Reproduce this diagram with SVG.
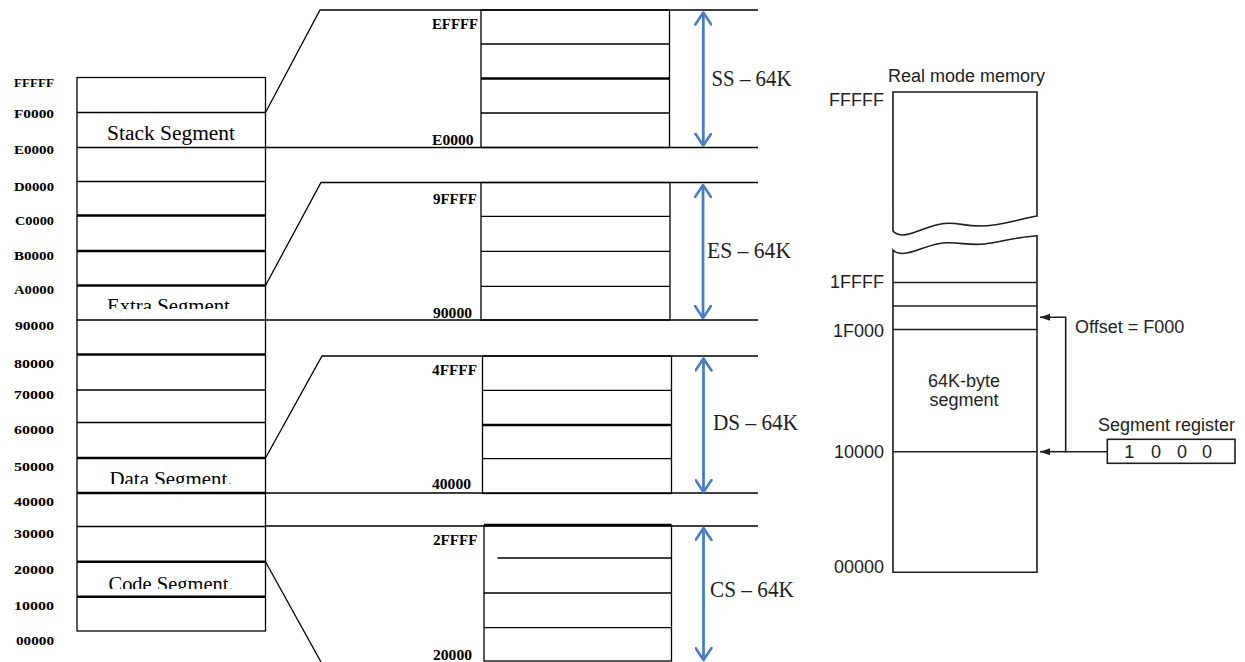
<svg xmlns="http://www.w3.org/2000/svg" width="1245" height="662" viewBox="0 0 1245 662">
<style>
.ln{stroke:#000;stroke-width:1.3;fill:none}
.th{stroke:#000;stroke-width:2.6;fill:none}
.lab{font-family:"Liberation Serif",serif;font-weight:bold;font-size:13.5px;fill:#000}
.mlab{font-family:"Liberation Serif",serif;font-weight:bold;font-size:14px;fill:#000}
.seg{font-family:"Liberation Serif",serif;font-size:20px;fill:#000;text-anchor:middle}
.sz{font-family:"Liberation Serif",serif;font-size:23px;fill:#222}
.blue{stroke:#4a7dbf;stroke-width:2.8;fill:none}
.rl{stroke:#1e1e1e;stroke-width:1.6;fill:none}
.rt{font-family:"Liberation Sans",Arial,sans-serif;font-size:18px;fill:#222}
.ra{text-anchor:end}
.rm{text-anchor:middle}
</style>
<defs>
<marker id="chev" viewBox="0 0 15 18" refX="13" refY="9" markerWidth="15" markerHeight="18" markerUnits="userSpaceOnUse" orient="auto-start-reverse">
<path d="M1,1 L13,9 L1,17" fill="none" stroke="#4a7dbf" stroke-width="2.6" stroke-linecap="round" stroke-linejoin="round"/>
</marker>
<marker id="tri" viewBox="0 0 10 7" refX="10" refY="3.5" markerWidth="10" markerHeight="7" markerUnits="userSpaceOnUse" orient="auto">
<path d="M0,0 L10,3.5 L0,7 z" fill="#1e1e1e"/>
</marker>
<clipPath id="cExtra"><rect x="77" y="286" width="188" height="23"/></clipPath>
<clipPath id="cData"><rect x="77" y="459" width="188" height="25"/></clipPath>
<clipPath id="cCode"><rect x="77" y="563" width="188" height="26"/></clipPath>
</defs>
<rect width="1245" height="662" fill="#fff"/>

<g id="left-memory">
<rect class="ln" x="77" y="77.5" width="188.5" height="553.5"/>
<line class="ln" x1="77" y1="112.5" x2="265.5" y2="112.5"/>
<line class="ln" x1="77" y1="147.5" x2="265.5" y2="147.5"/>
<line class="ln" x1="77" y1="181.5" x2="265.5" y2="181.5"/>
<line class="th" x1="77" y1="215.5" x2="265.5" y2="215.5"/>
<line class="th" x1="77" y1="251" x2="265.5" y2="251"/>
<line class="th" x1="77" y1="285.5" x2="265.5" y2="285.5"/>
<line class="ln" x1="77" y1="320" x2="265.5" y2="320"/>
<line class="th" x1="77" y1="354.5" x2="265.5" y2="354.5"/>
<line class="ln" x1="77" y1="390" x2="265.5" y2="390"/>
<line class="ln" x1="77" y1="422.5" x2="265.5" y2="422.5"/>
<line class="th" x1="77" y1="458" x2="265.5" y2="458"/>
<line class="th" x1="77" y1="493" x2="265.5" y2="493"/>
<line class="ln" x1="77" y1="526.5" x2="265.5" y2="526.5"/>
<line class="th" x1="77" y1="561.7" x2="265.5" y2="561.7"/>
<line class="th" x1="77" y1="596.7" x2="265.5" y2="596.7"/>
<text class="lab" x="14" y="86.5" textLength="40" lengthAdjust="spacingAndGlyphs">FFFFF</text>
<text class="lab" x="14" y="117.5" textLength="40" lengthAdjust="spacingAndGlyphs">F0000</text>
<text class="lab" x="14" y="153.5" textLength="40" lengthAdjust="spacingAndGlyphs">E0000</text>
<text class="lab" x="14" y="190.5" textLength="40" lengthAdjust="spacingAndGlyphs">D0000</text>
<text class="lab" x="15" y="224.5" textLength="39" lengthAdjust="spacingAndGlyphs">C0000</text>
<text class="lab" x="14" y="259.5" textLength="40" lengthAdjust="spacingAndGlyphs">B0000</text>
<text class="lab" x="14" y="293.5" textLength="40" lengthAdjust="spacingAndGlyphs">A0000</text>
<text class="lab" x="15" y="329.5" textLength="39" lengthAdjust="spacingAndGlyphs">90000</text>
<text class="lab" x="14" y="367.5" textLength="40" lengthAdjust="spacingAndGlyphs">80000</text>
<text class="lab" x="14" y="398.5" textLength="40" lengthAdjust="spacingAndGlyphs">70000</text>
<text class="lab" x="14" y="433.5" textLength="40" lengthAdjust="spacingAndGlyphs">60000</text>
<text class="lab" x="14" y="470.5" textLength="40" lengthAdjust="spacingAndGlyphs">50000</text>
<text class="lab" x="14" y="505.5" textLength="40" lengthAdjust="spacingAndGlyphs">40000</text>
<text class="lab" x="14" y="537.5" textLength="40" lengthAdjust="spacingAndGlyphs">30000</text>
<text class="lab" x="14" y="573.5" textLength="40" lengthAdjust="spacingAndGlyphs">20000</text>
<text class="lab" x="14" y="609.5" textLength="40" lengthAdjust="spacingAndGlyphs">10000</text>
<text class="lab" x="16" y="644.5" textLength="38" lengthAdjust="spacingAndGlyphs">00000</text>
<text class="seg" x="171" y="139.5" textLength="128" lengthAdjust="spacingAndGlyphs">Stack Segment</text>
<text class="seg" x="171" y="313" textLength="128" lengthAdjust="spacingAndGlyphs" clip-path="url(#cExtra)">Extra Segment.</text>
<text class="seg" x="171" y="486" textLength="123" lengthAdjust="spacingAndGlyphs" clip-path="url(#cData)">Data Segment.</text>
<text class="seg" x="171" y="591" textLength="125" lengthAdjust="spacingAndGlyphs" clip-path="url(#cCode)">Code Segment.</text>
</g>

<g id="connectors">
<polyline class="ln" points="265.5,112.5 320,10 758,10"/>
<line class="ln" x1="265.5" y1="147.5" x2="758" y2="147.5"/>
<polyline class="ln" points="265.5,285.5 321,182.5 758,182.5"/>
<line class="ln" x1="265.5" y1="320" x2="758" y2="320"/>
<polyline class="ln" points="265.5,458 322,356 758,356"/>
<line class="ln" x1="265.5" y1="493" x2="758" y2="493"/>
<line class="ln" x1="265.5" y1="526" x2="758" y2="526"/>
<line class="ln" x1="265.5" y1="561.7" x2="321" y2="662"/>
<line class="blue" x1="703.3" y1="12.5" x2="703.3" y2="145.5" marker-start="url(#chev)" marker-end="url(#chev)"/>
<line class="blue" x1="703" y1="185" x2="703" y2="318" marker-start="url(#chev)" marker-end="url(#chev)"/>
<line class="blue" x1="703.5" y1="358.5" x2="703.5" y2="492" marker-start="url(#chev)" marker-end="url(#chev)"/>
<line class="blue" x1="703.5" y1="528" x2="703.5" y2="660" marker-start="url(#chev)" marker-end="url(#chev)"/>
<polyline class="rl" points="1107.3,451.7 1065.7,451.7 1065.7,317.3 1040,317.3" marker-end="url(#tri)"/>
<line class="rl" x1="1065.7" y1="451.7" x2="1040" y2="451.7" marker-end="url(#tri)"/>
</g>

<g id="ss-segment">
<rect class="ln" x="481" y="10" width="188.5" height="137.5"/>
<line class="ln" x1="481" y1="44" x2="669.5" y2="44"/>
<line class="th" x1="481" y1="78.5" x2="670" y2="78.5"/>
<line class="ln" x1="481" y1="113" x2="669.5" y2="113"/>
<text class="mlab" x="432" y="29" textLength="46" lengthAdjust="spacingAndGlyphs">EFFFF</text>
<text class="mlab" x="432" y="145" textLength="41.5" lengthAdjust="spacingAndGlyphs">E0000</text>
<text class="sz" x="711.5" y="86" textLength="80" lengthAdjust="spacingAndGlyphs">SS – 64K</text>
</g>

<g id="es-segment">
<rect class="ln" x="481" y="182.5" width="189" height="137.5"/>
<line class="ln" x1="481" y1="216.3" x2="670" y2="216.3"/>
<line class="ln" x1="481" y1="251.3" x2="670" y2="251.3"/>
<line class="ln" x1="481" y1="286.3" x2="670" y2="286.3"/>
<text class="mlab" x="433" y="203.5" textLength="44" lengthAdjust="spacingAndGlyphs">9FFFF</text>
<text class="mlab" x="433" y="318" textLength="39" lengthAdjust="spacingAndGlyphs">90000</text>
<text class="sz" x="707" y="258" textLength="84" lengthAdjust="spacingAndGlyphs">ES – 64K</text>
</g>

<g id="ds-segment">
<rect class="ln" x="482.5" y="356" width="189" height="137.5"/>
<line class="ln" x1="482.5" y1="390.3" x2="671.5" y2="390.3"/>
<line class="th" x1="482.5" y1="425" x2="671.5" y2="425"/>
<line class="ln" x1="482.5" y1="458.7" x2="671.5" y2="458.7"/>
<text class="mlab" x="432" y="375" textLength="45" lengthAdjust="spacingAndGlyphs">4FFFF</text>
<text class="mlab" x="432" y="489" textLength="39" lengthAdjust="spacingAndGlyphs">40000</text>
<text class="sz" x="713" y="430" textLength="85" lengthAdjust="spacingAndGlyphs">DS – 64K</text>
</g>

<g id="cs-segment">
<rect class="ln" x="484" y="525.5" width="187.5" height="135.5"/>
<line class="th" x1="484" y1="525" x2="671.5" y2="525"/>
<line class="ln" x1="497.5" y1="558" x2="671.5" y2="558"/>
<line class="ln" x1="484" y1="593" x2="671.5" y2="593"/>
<line class="ln" x1="484" y1="627.7" x2="671.5" y2="627.7"/>
<text class="mlab" x="433" y="544.5" textLength="44.5" lengthAdjust="spacingAndGlyphs">2FFFF</text>
<text class="mlab" x="433" y="660" textLength="39" lengthAdjust="spacingAndGlyphs">20000</text>
<text class="sz" x="710" y="597" textLength="84" lengthAdjust="spacingAndGlyphs">CS – 64K</text>
</g>

<g id="real-mode-memory">
<text class="rt rm" x="966.5" y="82">Real mode memory</text>
<path class="rl" d="M893,231 L893,92 L1037,92 L1037,216 C1015,220 1000,226 980,226 C962,226 958,222 944,223.5 C928,225 912,236 902,235 Q896,234.5 893,231 Z"/>
<path class="rl" d="M893,250 Q896,253.5 903,253.5 C916,253 930,243 946,242.7 C961,242.4 966,245 980,244.3 C996,243.5 1012,237.5 1037,235.7 L1037,572.3 L893,572.3 Z"/>
<line class="rl" x1="893" y1="282.5" x2="1037" y2="282.5"/>
<line class="rl" x1="893" y1="306" x2="1037" y2="306"/>
<line class="rl" x1="893" y1="329.5" x2="1037" y2="329.5"/>
<line class="rl" x1="893" y1="451.7" x2="1037" y2="451.7"/>
<text class="rt ra" x="884" y="106">FFFFF</text>
<text class="rt ra" x="884" y="288">1FFFF</text>
<text class="rt ra" x="884" y="336.5">1F000</text>
<text class="rt ra" x="884" y="458">10000</text>
<text class="rt ra" x="884" y="573">00000</text>
<text class="rt rm" x="964" y="386.5">64K-byte</text>
<text class="rt rm" x="964" y="406">segment</text>
<text class="rt" x="1075" y="333">Offset = F000</text>
</g>

<g id="segment-register">
<text class="rt" x="1098" y="430.5">Segment register</text>
<rect class="rl" x="1107.3" y="439.3" width="127.7" height="24"/>
<text class="rt rm" x="1129.3 1142.7 1156 1169 1182 1194.5 1207" y="458">1 0 0 0</text>
</g>
</svg>
